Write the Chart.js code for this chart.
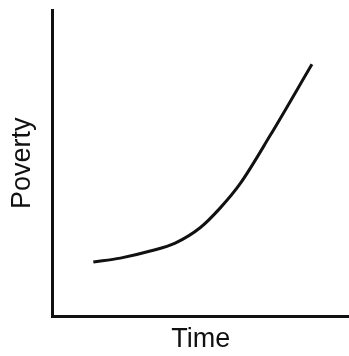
<!DOCTYPE html>
<html>
<head>
<meta charset="utf-8">
<script src="https://cdn.jsdelivr.net/npm/chart.js@4"></script>
<style>
  html, body { margin: 0; padding: 0; background: #fff; }
  #chart { display: block; }
</style>
</head>
<body>
<canvas id="chart" width="349" height="356"></canvas>
<script>
// values (arbitrary 0-100 units)
const timeValues = [13.8, 22.9, 33.0, 41.4, 49.8, 56.6, 63.3, 73.4, 87.5];
const povertyValues = [17.7, 19.0, 21.3, 23.9, 28.9, 35.4, 43.3, 59.0, 82.3];
const xLabel = 'Time';
const yLabel = 'Poverty';

const points = timeValues.map(function(t, i) {
    return { x: t, y: povertyValues[i] };
});

const ctx = document.getElementById('chart').getContext('2d');
const chart = new Chart(ctx, {
    type: 'line',
    data: {
        datasets: [{
            data: points,
            borderColor: '#111',
            borderWidth: 3,
            pointRadius: 0,
            cubicInterpolationMode: 'monotone',
            fill: false
        }]
    },
    options: {
        responsive: false,
        animation: false,
        layout: { padding: { left: 6, top: 10, right: 0, bottom: 0 } },
        plugins: {
            legend: { display: false },
            tooltip: { enabled: false }
        },
        scales: {
            x: {
                type: 'linear',
                min: 0,
                max: 100,
                grid: { display: false },
                ticks: { display: false },
                border: { display: true, color: '#111', width: 3 },
                title: {
                    display: true,
                    text: xLabel,
                    color: '#111',
                    font: { family: 'Liberation Sans', size: 27, lineHeight: 1.1 },
                    padding: { top: 0, bottom: 2 }
                }
            },
            y: {
                min: 0,
                max: 100,
                grid: { display: false },
                ticks: { display: false },
                border: { display: true, color: '#111', width: 3 },
                title: {
                    display: true,
                    text: yLabel,
                    color: '#111',
                    font: { family: 'Liberation Sans', size: 27 },
                    padding: { top: 0, bottom: 6 }
                }
            }
        }
    }
});
</script>
</body>
</html>
